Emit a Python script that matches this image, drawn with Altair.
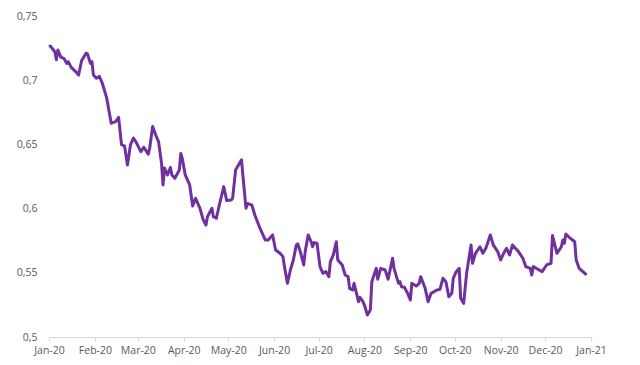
import altair as alt
import pandas as pd

# day offsets from 2020-01-01 and values
days = [0, 1, 4, 5, 6, 8, 10, 12, 13, 15, 18, 20, 22, 25, 26, 28, 29, 30, 32, 34,
        36, 39, 42, 45, 47, 49, 51, 53, 55, 57, 59, 62, 64, 67, 68, 70, 72, 74, 76, 77,
        78, 80, 82, 83, 85, 88, 89, 90, 92, 95, 97, 99, 102, 104, 106, 107, 110, 111, 113, 115,
        118, 120, 123, 124, 126, 130, 131, 133, 134, 137, 139, 142, 146, 148, 151, 153, 156, 158, 159, 161,
        163, 165, 167, 168, 170, 172, 173, 175, 177, 178, 179, 181, 183, 185, 187, 189, 190, 192, 194, 195,
        198, 200, 202, 203, 205, 206, 209, 210, 212, 213, 215, 217, 218, 221, 222, 224, 227, 229, 232, 233,
        236, 237, 238, 240, 242, 244, 245, 248, 250, 251, 254, 256, 258, 262, 264, 266, 268, 270, 272, 273,
        275, 277, 278, 280, 282, 285, 286, 288, 291, 293, 295, 298, 300, 303, 305, 307, 309, 311, 313, 314,
        317, 320, 322, 325, 326, 327, 329, 333, 336, 339, 340, 343, 346, 347, 348, 349, 352, 355, 356, 358,
        363]
values = [0.726, 0.7266, 0.722, 0.716, 0.7236, 0.718, 0.717, 0.713, 0.7145, 0.710, 0.7067, 0.704, 0.7152, 0.721, 0.7205, 0.713, 0.7145, 0.704, 0.7015, 0.703,
          0.6976, 0.686, 0.6665, 0.6678, 0.671, 0.6496, 0.6488, 0.634, 0.6496, 0.655, 0.6514, 0.6444, 0.6478, 0.6424, 0.6472, 0.664, 0.6575, 0.652, 0.6353, 0.6184,
          0.6316, 0.6262, 0.632, 0.6262, 0.6236, 0.630, 0.643, 0.639, 0.6262, 0.6184, 0.602, 0.608, 0.600, 0.5917, 0.5872, 0.5937, 0.6003, 0.5937, 0.5925, 0.6027,
          0.6171, 0.6062, 0.6067, 0.608, 0.630, 0.638, 0.625, 0.6003, 0.604, 0.6027, 0.595, 0.586, 0.5756, 0.5756, 0.5795, 0.5678, 0.5652, 0.5626, 0.5548, 0.5418,
          0.5522, 0.560, 0.5717, 0.5725, 0.5652, 0.5561, 0.5665, 0.5795, 0.5742, 0.5703, 0.5735, 0.573, 0.5548, 0.5496, 0.5509, 0.547, 0.5587, 0.5639, 0.5742, 0.560,
          0.5561, 0.5483, 0.547, 0.5379, 0.5366, 0.5418, 0.5275, 0.5309, 0.5275, 0.5249, 0.5171, 0.521, 0.5431, 0.5535, 0.545, 0.5535, 0.5522, 0.545, 0.5613, 0.5535,
          0.5418, 0.5431, 0.5392, 0.5387, 0.5345, 0.5288, 0.5418, 0.5397, 0.5418, 0.547, 0.5379, 0.5275, 0.534, 0.5366, 0.5371, 0.5457, 0.5431, 0.5314, 0.534, 0.5457,
          0.5509, 0.5535, 0.5301, 0.5262, 0.5496, 0.5717, 0.5574, 0.5652, 0.5703, 0.5652, 0.5691, 0.5795, 0.5717, 0.5665, 0.560, 0.5652, 0.5691, 0.5639, 0.5717, 0.5703,
          0.5665, 0.5613, 0.5548, 0.5535, 0.5483, 0.5548, 0.5535, 0.5509, 0.5561, 0.5574, 0.579, 0.5652, 0.5703, 0.5756, 0.573, 0.5802, 0.5769, 0.5742, 0.560, 0.5535,
          0.5483]

dates = (pd.Timestamp("2020-01-01") + pd.to_timedelta(days, unit="D")).strftime("%Y-%m-%d")
df = pd.DataFrame({"date": dates, "value": values})

month_ticks = [alt.DateTime(year=2020, month=m, date=1, utc=True) for m in range(1, 13)] + [
    alt.DateTime(year=2021, month=1, date=1, utc=True)]

chart = alt.Chart(df).mark_line(color="#7030A0", strokeWidth=3, strokeJoin="round").encode(
    x=alt.X("date:T",
            scale=alt.Scale(type="utc",
                            domain=[alt.DateTime(year=2020, month=1, date=1, utc=True),
                                    alt.DateTime(year=2021, month=1, date=1, utc=True)]),
            axis=alt.Axis(title=None, values=month_ticks, format="%b-%y", grid=False,
                          domainColor="#d9d9d9", tickColor="#d9d9d9", tickSize=4,
                          labelColor="#595959", labelFontSize=10.5, labelFont="Open Sans",
                          labelPadding=4, labelFlush=False)),
    y=alt.Y("value:Q",
            scale=alt.Scale(domain=[0.5, 0.75], nice=False, zero=False),
            axis=alt.Axis(title=None, values=[0.5, 0.55, 0.6, 0.65, 0.7, 0.75],
                          labelExpr="replace(format(datum.value, '.2~f'), '.', ',')",
                          grid=False, domain=False, ticks=False,
                          labelColor="#595959", labelFontSize=10.5, labelFont="Open Sans",
                          labelPadding=12)),
).properties(
    width=542, height=321,
    padding={"left": 8, "top": 3, "right": 20, "bottom": 5},
).configure_view(stroke=None)

chart.save("out.html", embed_options={"renderer": "svg", "actions": False})
